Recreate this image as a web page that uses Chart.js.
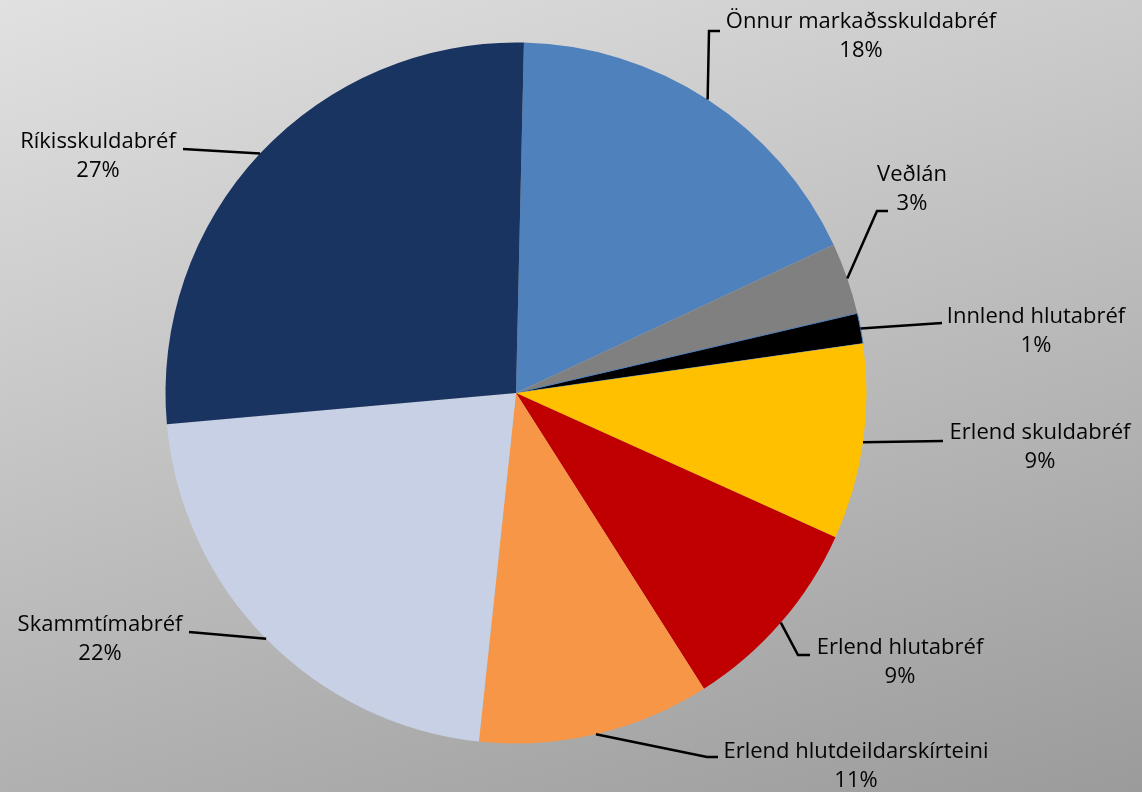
<!DOCTYPE html>
<html>
<head>
<meta charset="utf-8">
<script src="https://cdn.jsdelivr.net/npm/chart.js@4"></script>
<style>
    html, body {
        margin: 0;
        padding: 0;
    }
    body {
        width: 1142px;
        height: 792px;
        overflow: hidden;
        background: linear-gradient(163deg, #e1e1e1 0%, #9b9b9b 100%);
    }
    #wrap {
        position: relative;
        width: 1142px;
        height: 792px;
    }
</style>
</head>
<body>
<div id="wrap"><canvas id="assetChart"></canvas></div>
<script>
// Eignasamsetning (share of portfolio, %)
const categories = [
    'Önnur markaðsskuldabréf',
    'Veðlán',
    'Innlend hlutabréf',
    'Erlend skuldabréf',
    'Erlend hlutabréf',
    'Erlend hlutdeildarskírteini',
    'Skammtímabréf',
    'Ríkisskuldabréf'
];
const shares = [17.7, 3.3, 1.4, 9.0, 9.25, 10.7, 21.9, 26.8];
const sliceColors = ['#4f81bd', '#808080', '#000000', '#ffc000', '#c00000', '#f79646', '#c7d0e4', '#1a3461'];

// Label placement: first text line centre, leader elbow and leader end (canvas px)
const labelAt = [[861, 22], [912, 175], [1036, 317], [1040, 433], [900, 648], [856, 752], [100, 625], [98, 142]];
const leaderElbow = [[709, 31], [877, 211], [942, 323], [943, 441], [798, 655], [707, 757], [189, 632], [183, 149]];
const leaderEnd = [[720, 31], [888, 211], [942, 323], [943, 441], [810, 655], [718, 757], [189, 632], [183, 149]];

const total = shares.reduce((a, b) => a + b, 0);

// Draws category name + rounded percent with a black leader line
const outsideLabels = {
    id: 'outsideLabels',
    afterDatasetsDraw(chart) {
        const ctx = chart.ctx;
        const arcs = chart.getDatasetMeta(0).data;
        ctx.save();
        ctx.strokeStyle = '#000';
        ctx.lineWidth = 2.5;
        ctx.lineJoin = 'miter';
        arcs.forEach((arc, i) => {
            const p = arc.getProps(['x', 'y', 'startAngle', 'endAngle', 'outerRadius'], true);
            const mid = (p.startAngle + p.endAngle) / 2;
            const sx = p.x + Math.cos(mid) * p.outerRadius;
            const sy = p.y + Math.sin(mid) * p.outerRadius;
            ctx.beginPath();
            ctx.moveTo(sx, sy);
            ctx.lineTo(leaderElbow[i][0], leaderElbow[i][1]);
            ctx.lineTo(leaderEnd[i][0], leaderEnd[i][1]);
            ctx.stroke();
        });

        ctx.fillStyle = '#050505';
        ctx.font = '22px "Open Sans", sans-serif';
        ctx.textAlign = 'center';
        ctx.textBaseline = 'middle';
        arcs.forEach((arc, i) => {
            const pct = Math.round(shares[i] / total * 100) + '%';
            ctx.fillText(categories[i], labelAt[i][0], labelAt[i][1]);
            ctx.fillText(pct, labelAt[i][0], labelAt[i][1] + 29);
        });
        ctx.restore();
    }
};

const ctx = document.getElementById('assetChart').getContext('2d');
const assetChart = new Chart(ctx, {
    type: 'pie',
    data: {
        labels: categories,
        datasets: [{
            data: shares,
            backgroundColor: sliceColors,
            borderColor: sliceColors.map((c, i) => i === 2 ? '#4f81bd' : c),
            borderWidth: sliceColors.map((c, i) => i === 2 ? 1 : 0)
        }]
    },
    options: {
        responsive: true,
        maintainAspectRatio: false,
        animation: false,
        rotation: 1.3,
        layout: {
            padding: { top: 42, bottom: 48, left: 165, right: 275 }
        },
        plugins: {
            legend: { display: false },
            tooltip: { enabled: false }
        }
    },
    plugins: [outsideLabels]
});
</script>
</body>
</html>
